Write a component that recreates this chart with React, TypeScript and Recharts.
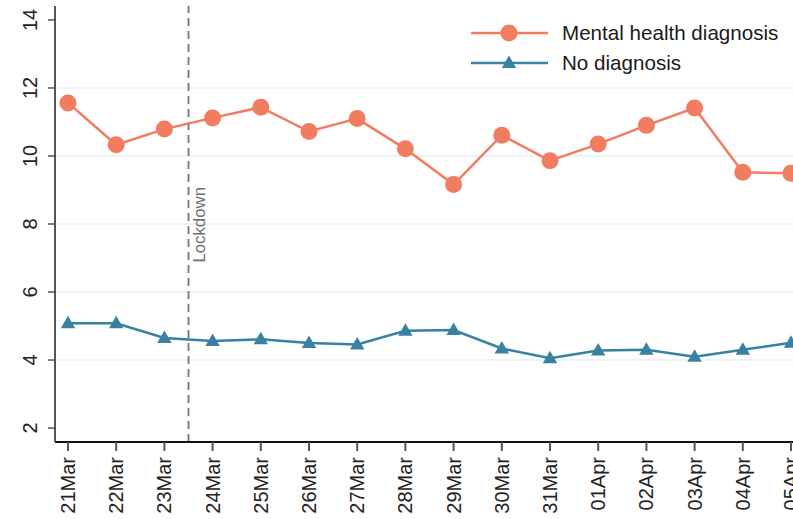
import {
  Line,
  LineChart,
  ReferenceLine,
  XAxis,
  YAxis
} from "recharts";

const dates = [
  "21Mar", "22Mar", "23Mar", "24Mar", "25Mar", "26Mar", "27Mar", "28Mar",
  "29Mar", "30Mar", "31Mar", "01Apr", "02Apr", "03Apr", "04Apr", "05Apr"
];
const mentalHealth = [
  11.56, 10.33, 10.79, 11.12, 11.43, 10.72, 11.1, 10.21,
  9.16, 10.61, 9.86, 10.35, 10.9, 11.41, 9.52, 9.49
];
const noDiagnosis = [
  5.08, 5.08, 4.65, 4.56, 4.61, 4.5, 4.46, 4.86,
  4.88, 4.34, 4.05, 4.28, 4.3, 4.1, 4.3, 4.51
];
const yTicks = [2, 4, 6, 8, 10, 12, 14];
const gridValues = [4, 6, 8, 10, 12];
const lockdownAt = 2.5; // between 23Mar and 24Mar

const ORANGE = "#f27c60";
const BLUE = "#3a80a2";
const FONT = "'Liberation Sans', Arial, sans-serif";

const data = dates.map((d, i) => ({
  idx: i,
  date: d,
  mental: mentalHealth[i],
  none: noDiagnosis[i]
}));

function Triangle({ cx, cy }: any) {
  if (cx == null || cy == null) return null;
  return (
    <polygon
      points={`${cx},${cy - 7.5} ${cx - 7.2},${cy + 5} ${cx + 7.2},${cy + 5}`}
      fill={BLUE}
    />
  );
}

function YTick({ x, y, payload }: any) {
  const tx = x - 9;
  return (
    <text
      x={tx}
      y={y}
      transform={`rotate(-90 ${tx} ${y})`}
      textAnchor="middle"
      fontSize={20}
      fontFamily={FONT}
      fill="#222"
    >
      {payload.value}
    </text>
  );
}

function XTick({ x, y, payload }: any) {
  const tx = x + 7;
  const ty = y + 4;
  return (
    <text
      x={tx}
      y={ty}
      transform={`rotate(-90 ${tx} ${ty})`}
      textAnchor="end"
      fontSize={20}
      fontFamily={FONT}
      fill="#222"
    >
      {dates[payload.value]}
    </text>
  );
}

function LockdownLabel({ viewBox }: any) {
  const x = viewBox.x + 16;
  const y = viewBox.y + 181;
  return (
    <text
      x={x}
      y={y}
      transform={`rotate(-90 ${x} ${y})`}
      textAnchor="end"
      fontSize={16.8}
      fontFamily={FONT}
      fill="#6e6e6e"
    >
      Lockdown
    </text>
  );
}

function LegendBox() {
  const rows = [
    { name: "Mental health diagnosis", color: ORANGE, shape: "circle" },
    { name: "No diagnosis", color: BLUE, shape: "triangle" }
  ];
  return (
    <div
      style={{
        position: "absolute",
        left: 470,
        top: 18,
        fontFamily: FONT
      }}
    >
      {rows.map((r) => (
        <div key={r.name} style={{ display: "flex", alignItems: "center", height: 30 }}>
          <svg width={80} height={30} style={{ display: "block" }}>
            <line x1={1} y1={15} x2={78} y2={15} stroke={r.color} strokeWidth={2.5} />
            {r.shape === "circle" ? (
              <circle cx={39} cy={15} r={8.5} fill={r.color} />
            ) : (
              <Triangle cx={39} cy={15} />
            )}
          </svg>
          <span style={{ fontSize: 20.6, color: "#1a1a1a", marginLeft: 12, whiteSpace: "nowrap" }}>
            {r.name}
          </span>
        </div>
      ))}
    </div>
  );
}

export default function App() {
  return (
    <div
      style={{
        position: "absolute",
        left: 0,
        top: 0,
        width: 793,
        height: 519,
        overflow: "hidden",
        background: "#fff"
      }}
    >
      <LineChart
        width={830}
        height={519}
        data={data}
        margin={{ top: 6, right: 26, left: 0, bottom: 0 }}
      >
        <XAxis
          type="number"
          dataKey="idx"
          domain={[0, dates.length - 1]}
          ticks={dates.map((_, i) => i)}
          interval={0}
          padding={{ left: 13, right: 13 }}
          height={77}
          tickSize={9}
          tickMargin={2}
          tick={<XTick />}
          axisLine={{ stroke: "#111", strokeWidth: 2 }}
          tickLine={{ stroke: "#555", strokeWidth: 2 }}
        />
        <YAxis
          type="number"
          domain={[1.59, 14.41]}
          ticks={yTicks}
          allowDataOverflow
          width={55}
          tickSize={7}
          tickMargin={2}
          tick={<YTick />}
          axisLine={{ stroke: "#555", strokeWidth: 2 }}
          tickLine={{ stroke: "#555", strokeWidth: 1.5 }}
        />
        {gridValues.map((v) => (
          <ReferenceLine key={v} y={v} stroke="#e6eff1" strokeWidth={1.5} />
        ))}
        <ReferenceLine
          x={lockdownAt}
          stroke="#777"
          strokeWidth={1.8}
          strokeDasharray="8 5"
          label={<LockdownLabel />}
        />
        <Line
          type="linear"
          dataKey="mental"
          stroke={ORANGE}
          strokeWidth={2.5}
          dot={{ r: 8.5, fill: ORANGE, stroke: "none" }}
          activeDot={false}
          isAnimationActive={false}
        />
        <Line
          type="linear"
          dataKey="none"
          stroke={BLUE}
          strokeWidth={2.5}
          dot={<Triangle />}
          activeDot={false}
          isAnimationActive={false}
        />
      </LineChart>
      <LegendBox />
    </div>
  );
}
